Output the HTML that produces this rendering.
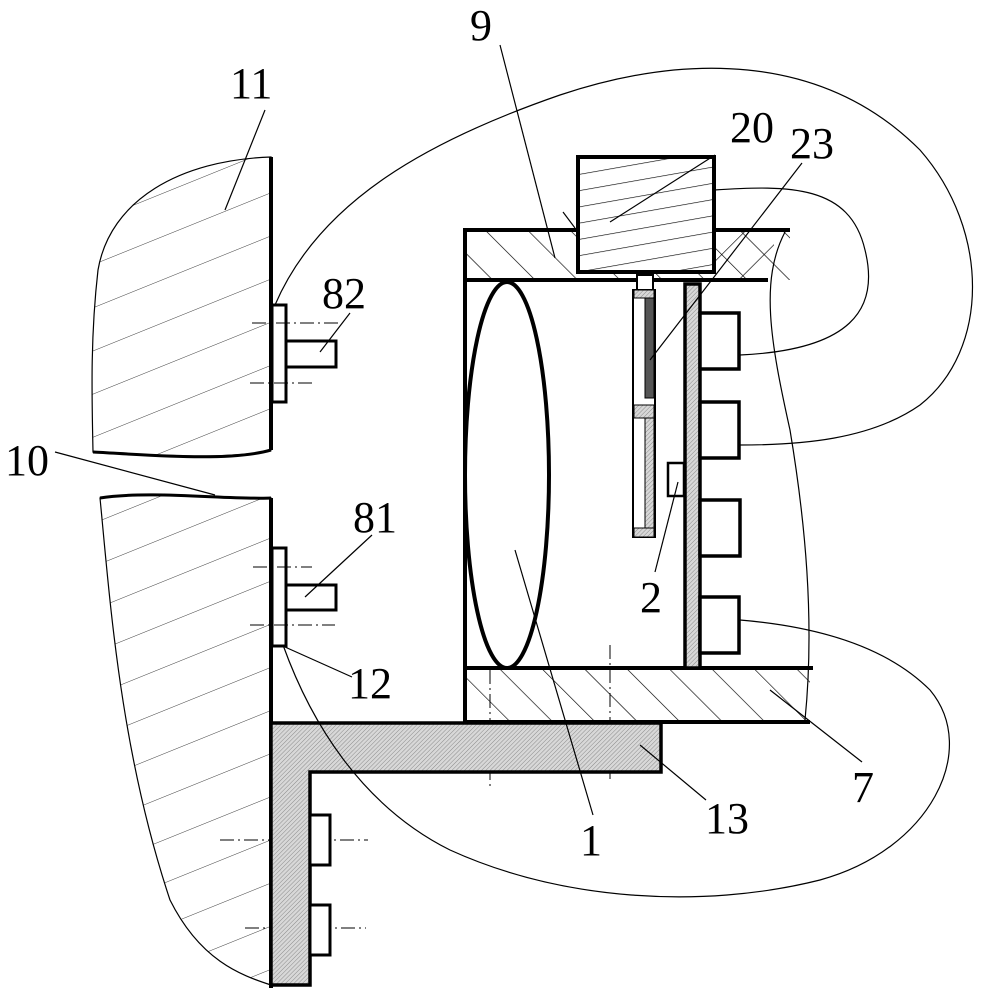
<!DOCTYPE html>
<html><head><meta charset="utf-8"><style>
html,body{margin:0;padding:0;background:#fff}
svg{display:block}
text{font-family:"Liberation Serif",serif;font-size:44px;fill:#000}
</style></head><body>
<svg width="987" height="1000" viewBox="0 0 987 1000" xmlns="http://www.w3.org/2000/svg">
<defs>
<pattern id="wallh" patternUnits="userSpaceOnUse" width="40" height="40" patternTransform="rotate(-22)">
<line x1="0" y1="0" x2="40" y2="0" stroke="#000" stroke-width="0.8"/></pattern>
<pattern id="boxh" patternUnits="userSpaceOnUse" width="30" height="30" patternTransform="rotate(-45)">
<line x1="0" y1="0" x2="0" y2="30" stroke="#000" stroke-width="1.3"/></pattern>
<pattern id="boxh2" patternUnits="userSpaceOnUse" width="30" height="30" patternTransform="rotate(45)">
<line x1="0" y1="0" x2="0" y2="30" stroke="#000" stroke-width="1.3"/></pattern>
<pattern id="fine" patternUnits="userSpaceOnUse" width="3" height="3" patternTransform="rotate(45)">
<rect width="3" height="3" fill="#d8d8d8"/><line x1="0" y1="0" x2="0" y2="3" stroke="#777" stroke-width="0.8"/></pattern>
<pattern id="mot" patternUnits="userSpaceOnUse" width="40" height="16" patternTransform="rotate(-10)">
<line x1="0" y1="0" x2="40" y2="0" stroke="#000" stroke-width="1.3"/></pattern>
</defs>
<g fill="none" stroke="#000">
<!-- wall -->
<path d="M271,157 C180,160 110,200 98,270 C90,340 92,400 93,452 C150,455 230,460 271,450 Z" fill="url(#wallh)" stroke-width="1.2"/>
<path d="M271,498 C230,500 150,490 100,498 C110,600 120,750 170,900 C200,960 240,975 271,985 Z" fill="url(#wallh)" stroke-width="1.2"/>
<path d="M93,452 C150,455 230,462 271,450" stroke-width="3"/>
<path d="M100,498 C150,490 230,500 271,498" stroke-width="3"/>
<line x1="271" y1="157" x2="271" y2="450" stroke-width="4"/>
<line x1="271" y1="498" x2="271" y2="988" stroke-width="4"/>
<!-- plates and pins -->
<rect x="272" y="305" width="14" height="97" fill="#fff" stroke-width="3"/>
<rect x="286" y="341" width="50" height="26" fill="#fff" stroke-width="3"/>
<rect x="272" y="548" width="14" height="98" fill="#fff" stroke-width="3"/>
<rect x="286" y="585" width="50" height="25" fill="#fff" stroke-width="3"/>
<g stroke-width="1" stroke-dasharray="14,4,2,4">
<line x1="252" y1="323" x2="340" y2="323"/><line x1="250" y1="383" x2="312" y2="383"/>
<line x1="253" y1="567" x2="312" y2="567"/><line x1="250" y1="625" x2="335" y2="625"/>
<line x1="220" y1="840" x2="368" y2="840"/><line x1="245" y1="928" x2="366" y2="928"/>
<line x1="490" y1="670" x2="490" y2="790"/><line x1="610" y1="645" x2="610" y2="780"/>
</g>
<!-- L bracket -->
<path d="M271,723 H661 V772 H310 V985 H271 Z" fill="url(#fine)" stroke-width="3.5"/>
<rect x="310" y="815" width="20" height="50" fill="#fff" stroke-width="3"/>
<rect x="310" y="905" width="20" height="50" fill="#fff" stroke-width="3"/>
<!-- box -->
<path d="M465,230 H578 V272 H714 V230 H790 V280 H465 Z" fill="url(#boxh)" stroke-width="0"/>
<rect x="714" y="232" width="60" height="47" fill="url(#boxh2)" stroke="none"/>
<rect x="465" y="670" width="345" height="52" fill="url(#boxh)" stroke="none"/>
<line x1="463" y1="230" x2="578" y2="230" stroke-width="4"/>
<line x1="714" y1="230" x2="790" y2="230" stroke-width="4"/>
<line x1="463" y1="280" x2="768" y2="280" stroke-width="4"/>
<line x1="463" y1="668" x2="813" y2="668" stroke-width="4"/>
<line x1="463" y1="722" x2="810" y2="722" stroke-width="4"/>
<line x1="465" y1="228" x2="465" y2="724" stroke-width="4"/>
<rect x="578" y="157" width="136" height="115" fill="#fff" stroke="none"/>
<rect x="578" y="157" width="136" height="115" fill="url(#mot)" stroke-width="4"/>
<ellipse cx="507" cy="475" rx="42" ry="193" stroke-width="4"/>
<rect x="637" y="275" width="16" height="15" fill="#fff" stroke-width="2"/>
<rect x="633" y="290" width="22" height="247" fill="#fff" stroke-width="2"/>
<rect x="645" y="298" width="9" height="100" fill="#555" stroke-width="1"/>
<rect x="634" y="290" width="20" height="8" fill="url(#fine)" stroke-width="1"/>
<rect x="634" y="405" width="20" height="13" fill="url(#fine)" stroke-width="1"/>
<rect x="645" y="418" width="9" height="110" fill="url(#fine)" stroke-width="1"/>
<rect x="634" y="528" width="20" height="9" fill="url(#fine)" stroke-width="1"/>
<rect x="685" y="284" width="15" height="384" fill="url(#fine)" stroke-width="3.5"/>
<rect x="668" y="463" width="16" height="33" fill="#fff" stroke-width="2.5"/>
<rect x="700" y="313" width="39" height="56" fill="#fff" stroke-width="3.5"/>
<rect x="700" y="402" width="39" height="56" fill="#fff" stroke-width="3.5"/>
<rect x="700" y="500" width="40" height="56" fill="#fff" stroke-width="3.5"/>
<rect x="700" y="597" width="39" height="56" fill="#fff" stroke-width="3.5"/>
<!-- break curves -->
<g stroke-width="1.2">
<path d="M275,305 C320,200 430,140 560,95 C680,55 820,50 920,150 C990,230 990,350 920,405 C870,440 800,445 740,445"/>
<path d="M714,190 C790,185 850,185 865,250 C880,310 850,350 740,355"/>
<path d="M740,620 C800,625 880,640 930,690 C980,750 930,850 820,880 C700,910 560,900 450,850 C360,805 310,720 283,645"/>
<path d="M785,232 C760,280 770,340 790,430 C805,520 815,620 805,720"/>
</g>
<!-- leaders -->
<g stroke-width="1.2">
<line x1="265" y1="110" x2="225" y2="210"/>
<line x1="350" y1="313" x2="320" y2="352"/>
<line x1="55" y1="452" x2="215" y2="495"/>
<line x1="372" y1="535" x2="305" y2="597"/>
<line x1="352" y1="677" x2="285" y2="647"/>
<line x1="500" y1="45" x2="555" y2="258"/>
<line x1="715" y1="155" x2="610" y2="222"/>
<line x1="802" y1="163" x2="650" y2="360"/>
<line x1="655" y1="572" x2="678" y2="482"/>
<line x1="593" y1="815" x2="515" y2="550"/>
<line x1="706" y1="800" x2="640" y2="745"/>
<line x1="862" y1="762" x2="770" y2="690"/>
<line x1="563" y1="212" x2="575" y2="228"/>
</g>
</g>
<text x="230" y="98">11</text>
<text x="322" y="308">82</text>
<text x="5" y="475">10</text>
<text x="353" y="532">81</text>
<text x="348" y="698">12</text>
<text x="470" y="40">9</text>
<text x="730" y="142">20</text>
<text x="790" y="158">23</text>
<text x="640" y="612">2</text>
<text x="580" y="855">1</text>
<text x="705" y="833">13</text>
<text x="852" y="802">7</text>
</svg>
</body></html>
